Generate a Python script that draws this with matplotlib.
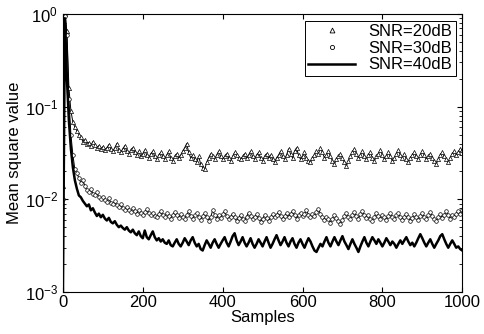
import matplotlib
matplotlib.use("Agg")
import matplotlib.pyplot as plt
from matplotlib.lines import Line2D

plt.rcParams["font.family"] = ["Liberation Sans", "DejaVu Sans"]
plt.rcParams["mathtext.fontset"] = "custom"
plt.rcParams["mathtext.rm"] = "Liberation Sans"
plt.rcParams["mathtext.it"] = "Liberation Sans"

SAMPLES = list(range(0, 1001, 5))
LABELS = ["SNR=20dB", "SNR=30dB", "SNR=40dB"]

# mean square values, in units of 1e-3
SNR20 = [
    14, 1000, 650, 160, 90, 68, 60, 55, 50, 47, 42, 44, 40, 41, 38, 42, 39, 36, 38, 35,
    37, 34, 36, 39, 35, 33, 36, 40, 34, 32, 35, 38, 33, 31, 34, 36, 32, 30, 33, 29,
    31, 34, 30, 28, 31, 33, 29, 27, 30, 32, 29, 27, 30, 33, 28, 26, 29, 31, 28, 30,
    33, 36, 40, 32, 28, 30, 27, 25, 29, 24, 22, 21, 25, 28, 31, 29, 27, 30, 33, 29,
    27, 29, 31, 28, 26, 29, 32, 30, 28, 27, 29, 31, 28, 30, 33, 29, 27, 30, 32, 28,
    26, 29, 31, 28, 30, 27, 25, 28, 30, 33, 29, 27, 30, 35, 31, 28, 33, 36, 30, 27,
    29, 32, 28, 26, 25, 28, 30, 33, 31, 36, 32, 28, 30, 33, 29, 26, 24, 27, 29, 31,
    28, 25, 23, 26, 29, 32, 35, 31, 28, 30, 33, 29, 27, 30, 32, 28, 26, 29, 31, 34,
    30, 27, 29, 32, 29, 26, 28, 31, 34, 30, 28, 31, 27, 25, 28, 30, 32, 29, 27, 30,
    33, 30, 27, 29, 31, 28, 26, 24, 27, 30, 32, 29, 27, 25, 28, 31, 33, 30, 32, 35,
    34,
]

SNR30 = [
    10, 950, 600, 120, 50, 30, 21, 19, 17, 15, 16, 14, 12.5, 12, 13, 11.5, 11, 12, 10.5, 10,
    10.5, 9.8, 9.4, 10.2, 9.2, 8.8, 9.5, 8.6, 8.2, 8.8, 8.0, 7.7, 8.3, 7.6, 7.3, 8.0, 7.4, 7.0, 7.6, 7.2,
    6.8, 7.3, 7.8, 7.1, 6.7, 7.2, 6.6, 6.4, 7.0, 7.5, 6.8, 6.5, 7.1, 6.6, 6.2, 6.8, 7.3, 6.7, 6.3, 6.9,
    6.5, 6.2, 6.8, 7.4, 6.6, 6.1, 6.7, 7.2, 6.4, 6.0, 6.6, 7.1, 6.5, 5.9, 6.4, 7.6, 6.8, 6.2, 6.7, 6.3,
    6.9, 7.4, 6.6, 6.1, 6.5, 7.0, 6.4, 5.8, 6.3, 6.8, 6.2, 5.9, 6.5, 7.2, 6.6, 6.1, 6.5, 6.9, 6.3, 5.7,
    6.2, 6.7, 6.3, 5.8, 6.4, 6.9, 6.5, 6.8, 7.3, 6.6, 6.1, 6.6, 7.1, 6.5, 6.9, 7.5, 6.7, 6.2, 6.8, 7.2,
    6.6, 7.0, 7.6, 6.8, 6.4, 7.0, 6.6, 7.3, 7.9, 6.9, 6.4, 6.0, 6.5, 6.1, 5.6, 6.2, 6.8, 6.3, 5.8, 5.4,
    6.0, 6.6, 7.2, 6.5, 6.1, 6.7, 7.3, 6.6, 6.2, 6.9, 7.4, 6.7, 6.3, 6.8, 6.2, 5.9, 6.5, 7.1, 6.6, 6.2,
    6.8, 6.4, 6.0, 6.6, 7.2, 6.5, 6.1, 6.7, 7.1, 6.4, 6.0, 6.5, 7.0, 6.4, 5.9, 6.3, 6.9, 6.4, 6.0, 6.6,
    7.1, 6.5, 6.1, 6.7, 7.3, 6.6, 6.2, 5.8, 6.4, 6.9, 6.3, 6.8, 7.4, 6.7, 6.2, 6.8, 6.4, 7.0, 7.5, 6.9,
    7.7,
]

SNR40 = [
    1.0, 900, 200, 70, 35, 22, 16, 13, 11, 10.5, 9.6, 9.0, 8.4, 8.8, 7.6, 8.0, 7.2, 6.6, 7.0, 6.4,
    6.8, 6.2, 5.9, 6.3, 5.7, 5.5, 5.8, 5.3, 5.0, 5.2, 4.9, 4.7, 5.0, 4.6, 4.4, 4.7, 4.3, 4.1, 4.5, 4.0,
    3.8, 4.6, 3.9, 3.7, 4.1, 4.5, 3.9, 3.6, 3.8, 3.5, 3.7, 3.4, 3.3, 3.6, 3.2, 3.1, 3.4, 3.7, 3.3, 3.1,
    3.4, 3.8, 3.5, 3.2, 3.6, 3.9, 3.4, 3.1, 3.3, 2.9, 2.8, 3.2, 3.6, 3.3, 3.0, 3.4, 3.7, 3.3, 3.0, 3.3,
    3.6, 3.9, 3.4, 3.1, 3.5, 4.0, 4.3, 3.6, 3.2, 3.5, 3.9, 3.4, 3.1, 3.4, 3.8, 3.3, 3.0, 3.3, 3.7, 3.4,
    3.1, 3.5, 3.9, 3.4, 3.0, 3.3, 3.7, 4.1, 3.6, 3.2, 3.5, 3.9, 3.4, 3.1, 3.5, 3.8, 3.3, 3.0, 3.4, 3.7,
    3.3, 3.0, 3.4, 3.8, 3.5, 3.1, 2.8, 2.7, 3.0, 3.3, 3.1, 3.5, 3.9, 3.4, 3.1, 3.5, 3.9, 3.5, 3.2, 3.6,
    4.0, 3.5, 3.2, 2.9, 3.3, 3.7, 3.3, 3.0, 2.7, 3.1, 3.5, 3.9, 3.4, 3.1, 3.5, 3.9, 3.6, 3.3, 3.7, 3.4,
    3.1, 3.4, 3.8, 3.5, 3.2, 3.5, 3.3, 3.0, 3.3, 3.6, 3.3, 3.6, 3.9, 3.5, 3.2, 3.4, 3.1, 3.4, 3.8, 4.2,
    3.8, 3.4, 3.1, 3.4, 3.7, 3.3, 3.0, 3.3, 3.6, 4.0, 4.2, 3.7, 3.3, 3.0, 3.3, 3.6, 3.3, 3.0, 3.1, 2.9,
    2.8,
]


def main() -> None:
    fig = plt.figure(figsize=(4.84, 3.34), dpi=100)
    ax = fig.add_axes([0.130, 0.126, 0.825, 0.832])

    ax.plot(SAMPLES, [v * 1e-3 for v in SNR20], color="black", linewidth=0.7,
            marker="^", markersize=3, markerfacecolor="white", markeredgecolor="black",
            markeredgewidth=0.5)
    ax.plot(SAMPLES, [v * 1e-3 for v in SNR30], color="black", linewidth=0.7,
            marker="o", markersize=2.6, markerfacecolor="white", markeredgecolor="black",
            markeredgewidth=0.5)
    ax.plot(SAMPLES, [v * 1e-3 for v in SNR40], color="black", linewidth=1.8)

    ax.set_yscale("log")
    ax.set_xlim(0, 1000)
    ax.set_ylim(1e-3, 1)
    ax.set_xticks([0, 200, 400, 600, 800, 1000])
    ax.tick_params(which="both", direction="in", top=True, right=True, labelsize=12)
    ax.tick_params(axis="x", pad=2)
    ax.set_xlabel("Samples", fontsize=12, labelpad=0)
    ax.set_ylabel("Mean square value", fontsize=12, labelpad=2)

    # legend in the original shows only the marker for the two noisy curves
    handles = [
        Line2D([], [], linestyle="none", marker="^", markersize=3.5,
               markerfacecolor="white", markeredgecolor="black", markeredgewidth=0.6),
        Line2D([], [], linestyle="none", marker="o", markersize=3,
               markerfacecolor="white", markeredgecolor="black", markeredgewidth=0.6),
        Line2D([], [], color="black", linewidth=1.8),
    ]
    leg = ax.legend(handles, LABELS, loc="upper right", fontsize=12, fancybox=False,
                    edgecolor="black", framealpha=1, handlelength=2.8,
                    borderaxespad=0.4, borderpad=0.2, labelspacing=0.1,
                    handletextpad=0.8)
    leg.get_frame().set_linewidth(0.7)

    fig.savefig("out.png", dpi=100)
    plt.close(fig)


if __name__ == "__main__":
    main()
